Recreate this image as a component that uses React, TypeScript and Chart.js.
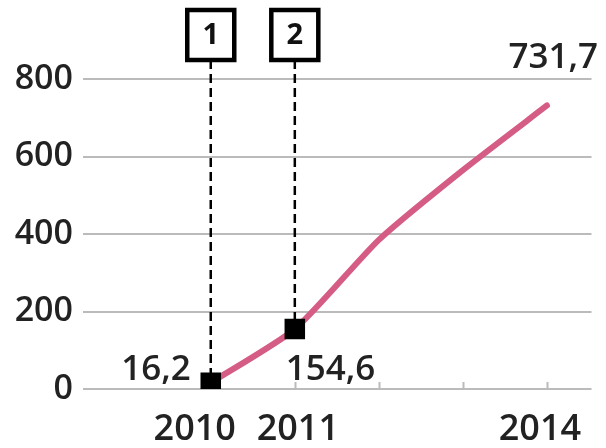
import React, { useEffect, useRef } from 'react';
import { Chart, registerables } from 'chart.js';

Chart.register(...registerables);

// ---- data ----
const years = [2010, 2011, 2012, 2013, 2014];
const values = [16.2, 154.6, 385, 565, 731.7];
const yTicks = [0, 200, 400, 600, 800];
const xTickLabels = ['2010', '2011', '', '', '2014'];
const valueLabels = ['16,2', '154,6', '', '', '731,7'];
const boxLabels = ['1', '2', '', '', ''];

const FONT = '"Open Sans", "Noto Sans", sans-serif';
const TEXT = '#222222';
const LINE = '#d55c84';
const GRID = '#bbbbbb';

const overlay = {
  id: 'overlay',
  beforeDatasetsDraw(chart: any) {
    const { ctx, scales } = chart;
    const xs = scales.x;
    const ys = scales.y;
    const y0 = ys.getPixelForValue(0);
    ctx.save();
    // small ticks on the baseline
    ctx.strokeStyle = GRID;
    ctx.lineWidth = 2;
    years.forEach((yr) => {
      const px = Math.round(xs.getPixelForValue(yr)) + 0.5;
      ctx.beginPath();
      ctx.moveTo(px, y0);
      ctx.lineTo(px, y0 - 7);
      ctx.stroke();
    });
    // dashed leaders + numbered boxes
    years.forEach((yr, i) => {
      if (!boxLabels[i]) return;
      const px = xs.getPixelForValue(yr);
      const py = ys.getPixelForValue(values[i]);
      const boxTop = 10;
      const boxH = 50;
      const boxW = 47;
      ctx.setLineDash([9, 5]);
      ctx.strokeStyle = '#000';
      ctx.lineWidth = 2.5;
      ctx.beginPath();
      ctx.moveTo(px, boxTop + boxH);
      ctx.lineTo(px, py);
      ctx.stroke();
      ctx.setLineDash([]);
      ctx.fillStyle = '#fff';
      ctx.fillRect(px - boxW / 2, boxTop, boxW, boxH);
      ctx.lineWidth = 4.5;
      ctx.strokeRect(px - boxW / 2, boxTop, boxW, boxH);
      ctx.fillStyle = '#111';
      ctx.font = `bold 29px ${FONT}`;
      ctx.textAlign = 'center';
      ctx.textBaseline = 'middle';
      ctx.fillText(boxLabels[i], px, boxTop + boxH / 2 + 1);
    });
    ctx.restore();
  },
  afterDatasetsDraw(chart: any) {
    const { ctx, scales } = chart;
    const xs = scales.x;
    const ys = scales.y;
    const y0 = ys.getPixelForValue(0);
    ctx.save();
    ctx.fillStyle = TEXT;
    ctx.textBaseline = 'alphabetic';
    // value labels
    ctx.font = `600 35px ${FONT}`;
    valueLabels.forEach((lab, i) => {
      if (!lab) return;
      const px = xs.getPixelForValue(years[i]);
      if (i === 0) {
        ctx.textAlign = 'right';
        ctx.fillText(lab, px - 20, y0 - 9);
      } else if (i === years.length - 1) {
        ctx.textAlign = 'right';
        ctx.fillText(lab, px + 51, ys.getPixelForValue(800) - 11);
      } else {
        ctx.textAlign = 'left';
        ctx.fillText(lab, px - 9, y0 - 9);
      }
    });
    // x labels
    ctx.font = `600 36px ${FONT}`;
    ctx.textAlign = 'center';
    const shift = [-16, 3, 0, 0, -7];
    xTickLabels.forEach((lab, i) => {
      if (!lab) return;
      const px = xs.getPixelForValue(years[i]);
      ctx.fillText(lab, px + shift[i], 440);
    });
    ctx.restore();
  },
};

export default function App() {
  const ref = useRef<HTMLCanvasElement>(null);
  useEffect(() => {
    document.body.style.margin = '0';
    const chart = new Chart(ref.current!, {
      type: 'line',
      data: {
        datasets: [
          {
            data: years.map((x, i) => ({ x, y: values[i] })),
            borderColor: LINE,
            borderWidth: 6,
            borderCapStyle: 'round',
            borderJoinStyle: 'round',
            tension: 0.2,
            pointStyle: 'rect',
            pointRadius: boxLabels.map((b) => (b ? 14.5 : 0)),
            pointBackgroundColor: '#000',
            pointBorderColor: '#000',
            pointBorderWidth: 0,
          },
        ],
      },
      options: {
        animation: false,
        responsive: false,
        events: [],
        layout: { padding: { top: 79, right: 9, left: 0, bottom: 0 } },
        plugins: { legend: { display: false }, tooltip: { enabled: false } },
        scales: {
          x: {
            type: 'linear',
            min: 2008.48,
            max: 2014.53,
            grid: { display: false },
            border: { display: false },
            ticks: { display: false },
            afterFit: (s: any) => {
              s.height = 59;
            },
          },
          y: {
            min: 0,
            max: 800,
            afterBuildTicks: (s: any) => {
              s.ticks = yTicks.map((v) => ({ value: v }));
            },
            grid: { color: GRID, lineWidth: 2, drawTicks: false },
            border: { display: false },
            ticks: {
              padding: 10,
              color: TEXT,
              font: { family: FONT, size: 34, weight: '600' },
            },
            afterFit: (s: any) => {
              s.width = 83;
            },
          },
        },
      },
      plugins: [overlay],
    });
    return () => chart.destroy();
  }, []);
  return <canvas ref={ref} width={606} height={448} />;
}
